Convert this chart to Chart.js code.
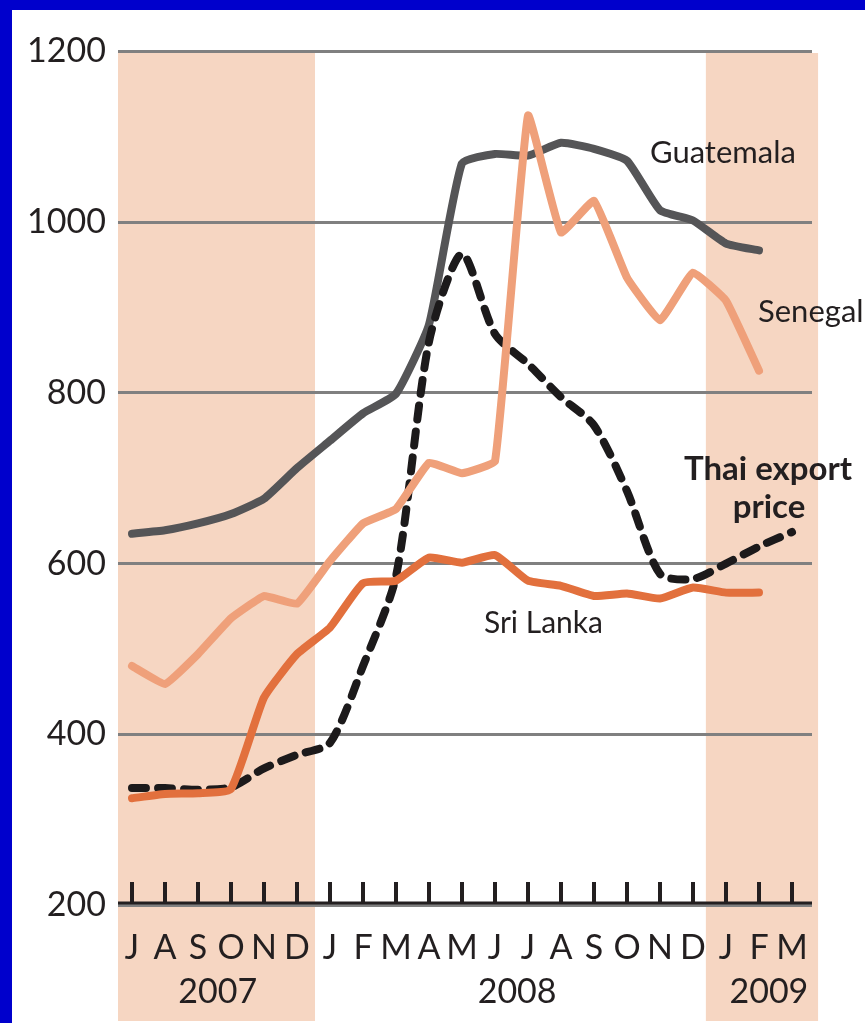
<!DOCTYPE html>
<html><head><meta charset="utf-8">
<script src="https://cdn.jsdelivr.net/npm/chart.js@4.4.0/dist/chart.umd.min.js"></script>
<style>
html,body{margin:0;padding:0;background:#0000cc;width:865px;height:1023px;overflow:hidden}
#wrap{position:absolute;left:12px;top:10px;width:853px;height:1013px;background:#fff}
canvas{display:block}
</style></head><body>
<div id="wrap"><canvas id="c" width="853" height="1013"></canvas></div>
<script>
// ---- data ----
const months = ['J','A','S','O','N','D','J','F','M','A','M','J','J','A','S','O','N','D','J','F','M'];
const years = ['2007','2008','2009'];
const guatemala = [635,639,647,658,676,712,744,776,799,880,1069,1080,1078,1093,1086,1072,1014,1002,975,967,null];
const senegal   = [480,459,494,536,562,553,603,647,664,718,706,720,1125,988,1025,935,885,941,908,826,null];
const sriLanka  = [325,330,331,336,443,494,525,577,580,607,601,610,580,574,562,565,559,572,566,566,null];
const thai      = [337,337,335,338,360,376,390,480,585,860,963,869,834,795,762,685,588,582,600,620,637];
const yTicks = [200,400,600,800,1000,1200];

// ---- layout constants (not data) ----
const FONT = 'Lato, "Open Sans", sans-serif';
const TXT = '#231f20';
const shadeRanges = [[-0.424, 5.545], [17.39, 20.79]];
const yearPos = [2.6, 11.67, 19.3];
const notes = [
  {t:'Guatemala', px:638, py:153, bold:false, size:31, align:'left'},
  {t:'Senegal', px:746, py:312, bold:false, size:31, align:'left'},
  {t:'Thai export', px:756, py:470, bold:true, size:33, align:'center'},
  {t:'price', px:757, py:508, bold:true, size:33, align:'center'},
  {t:'Sri Lanka', px:472, py:623, bold:false, size:30, align:'left'}
];

const pts = arr => arr.map((v,i)=>({x:i, y:v}));

const shadePlugin = {
  id:'shade',
  beforeDraw(chart){
    const {ctx, chartArea, scales:{x}} = chart;
    ctx.save();
    ctx.fillStyle = '#f6d6c2';
    for (const [a,b] of shadeRanges){
      const x0 = x.getPixelForValue(a), x1 = x.getPixelForValue(b);
      ctx.fillRect(x0, chartArea.top + 1.5, x1 - x0, chart.height - 2 - chartArea.top - 1.5);
    }
    ctx.restore();
  }
};

const decorPlugin = {
  id:'decor',
  beforeDatasetsDraw(chart){
    const {ctx, chartArea, scales:{x,y}} = chart;
    const yb = y.getPixelForValue(200);
    ctx.save();
    ctx.strokeStyle = TXT;
    ctx.lineWidth = 3;
    ctx.beginPath(); ctx.moveTo(chartArea.left, yb-2); ctx.lineTo(chartArea.right, yb-2); ctx.stroke();
    ctx.lineWidth = 4;
    months.forEach((m,i)=>{
      const px = x.getPixelForValue(i);
      ctx.beginPath(); ctx.moveTo(px, yb-2); ctx.lineTo(px, yb-23); ctx.stroke();
    });
    ctx.fillStyle = TXT;
    ctx.font = '34px ' + FONT;
    ctx.textAlign = 'center';
    ctx.textBaseline = 'alphabetic';
    years.forEach((t,i)=> ctx.fillText(t, x.getPixelForValue(yearPos[i]), 993));
    ctx.restore();
  },
  afterDatasetsDraw(chart){
    const {ctx} = chart;
    ctx.save();
    ctx.fillStyle = TXT;
    ctx.textBaseline = 'alphabetic';
    for (const n of notes){
      ctx.font = (n.bold ? 'bold ' : '') + n.size + 'px ' + FONT;
      ctx.textAlign = n.align;
      ctx.fillText(n.t, n.px, n.py);
    }
    ctx.restore();
  }
};

new Chart(document.getElementById('c'), {
  type:'line',
  data:{
    datasets:[
      {label:'Sri Lanka', data:pts(sriLanka), borderColor:'#e2703d', borderWidth:8, order:1, tension:0.15},
      {label:'Senegal', data:pts(senegal), borderColor:'#efa07a', borderWidth:8, order:2, tension:0.1},
      {label:'Thai export price', data:pts(thai), borderColor:'#1c1a1b', borderWidth:8, borderDash:[14,12], order:3, tension:0.25},
      {label:'Guatemala', data:pts(guatemala), borderColor:'#555557', borderWidth:8, order:4, tension:0.15}
    ]
  },
  options:{
    responsive:false,
    animation:false,
    events:[],
    layout:{padding:{top:41.5, right:53, left:0, bottom:0}},
    elements:{
      point:{radius:0},
      line:{borderCapStyle:'round', borderJoinStyle:'round', fill:false}
    },
    plugins:{legend:{display:false}, tooltip:{enabled:false}},
    scales:{
      x:{
        type:'linear', min:-0.424, max:20.606,
        afterBuildTicks(s){ s.ticks = months.map((m,i)=>({value:i})); },
        afterFit(s){ s.height = 118; },
        grid:{display:false, drawTicks:false},
        border:{display:false},
        ticks:{autoSkip:false, maxRotation:0, padding:23, color:TXT, font:{family:FONT, size:34},
          callback:(v,i)=>months[i]}
      },
      y:{
        min:200, max:1200,
        afterBuildTicks(s){ s.ticks = yTicks.map(v=>({value:v})); },
        afterFit(s){ s.width = 106; },
        grid:{color:'#808080', lineWidth:3, drawTicks:false},
        border:{display:false},
        ticks:{padding:12, color:TXT, font:{family:FONT, size:34}, callback:v=>String(v)}
      }
    }
  },
  plugins:[shadePlugin, decorPlugin]
});
</script>
</body></html>
